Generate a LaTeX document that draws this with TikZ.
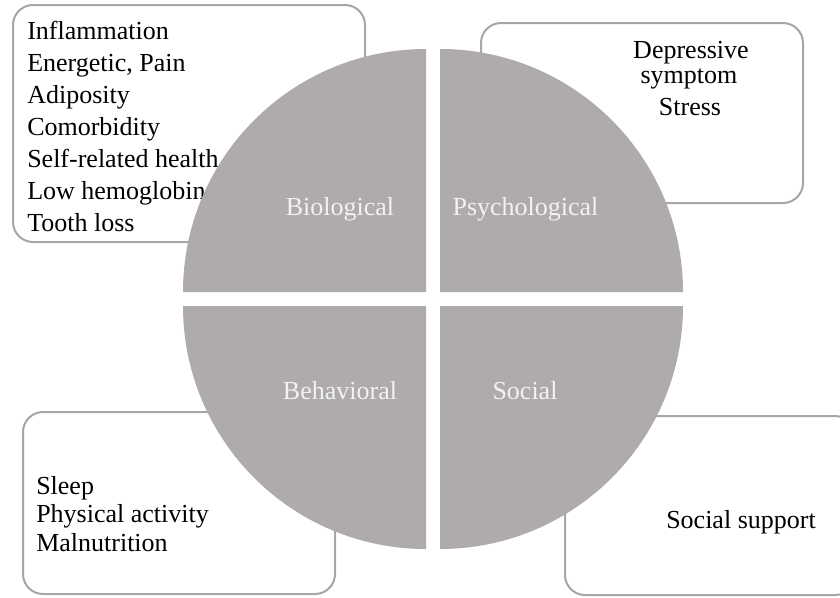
\documentclass[tikz,border=0pt]{standalone}
\usepackage{fontspec}
\setmainfont{Liberation Serif}
\definecolor{boxgray}{RGB}{166,166,166}
\definecolor{quadgray}{RGB}{174,171,170}
\definecolor{labelgray}{RGB}{242,242,242}

\begin{document}
\begin{tikzpicture}[x=0.75pt,y=0.75pt]
		\tikzstyle{listbox}=[draw=boxgray,line width=1.5pt,fill=white,rounded corners=15pt]
		\tikzstyle{quarter}=[fill=quadgray]
		\tikzstyle{item}=[anchor=base west,inner sep=0pt,font=\fontsize{19.5}{24}\selectfont]
		\tikzstyle{centred item}=[item,anchor=base]
		\tikzstyle{quarter label}=[centred item,text=labelgray]
		
		\clip (0,0) rectangle (840,-597);
		
		% Draw the boxes behind the circle
		\path[listbox] (13,-5) rectangle (365,-242);
		\path[listbox] (481,-23) rectangle (803,-203);
		\path[listbox] (23,-412) rectangle (335,-594);
		\path[listbox] (565,-416) rectangle (855,-595);
		
		% Biological items
		\foreach \txt [count=\i] in {Inflammation,{Energetic, Pain},Adiposity,Comorbidity,Self-related health,Low hemoglobin,Tooth loss}
		\node[item] (bio-\i) at (27,{-39.5-32*(\i-1)}) {\txt};
		
		% Psychological items
		\node[centred item] (psy-1) at (691,-58) {Depressive};
		\node[centred item] (psy-2) at (689,-83) {symptom};
		\node[centred item] (psy-3) at (690,-115) {Stress};
		
		% Behavioral items
		\foreach \txt [count=\i] in {Sleep,Physical activity,Malnutrition}
		\node[item] (beh-\i) at (36,{-494-28.5*(\i-1)}) {\txt};
		
		% Social items
		\node[centred item] (soc-1) at (741,-528) {Social support};
		
		% Draw the four quarters of the circle
		\fill[quarter] (426,-292) -- ++(-243,0) arc[start angle=180,end angle=90,radius=243] -- cycle;
		\fill[quarter] (440,-292) -- ++(243,0) arc[start angle=0,end angle=90,radius=243] -- cycle;
		\fill[quarter] (426,-306) -- ++(-243,0) arc[start angle=180,end angle=270,radius=243] -- cycle;
		\fill[quarter] (440,-306) -- ++(243,0) arc[start angle=0,end angle=-90,radius=243] -- cycle;
		
		% Annotate the quarters
		\node[quarter label] (biological) at (340,-215) {Biological};
		\node[quarter label] (psychological) at (525.5,-215) {Psychological};
		\node[quarter label] (behavioral) at (340,-399) {Behavioral};
		\node[quarter label] (social) at (525,-399) {Social};
	
	\end{tikzpicture}
\end{document}
